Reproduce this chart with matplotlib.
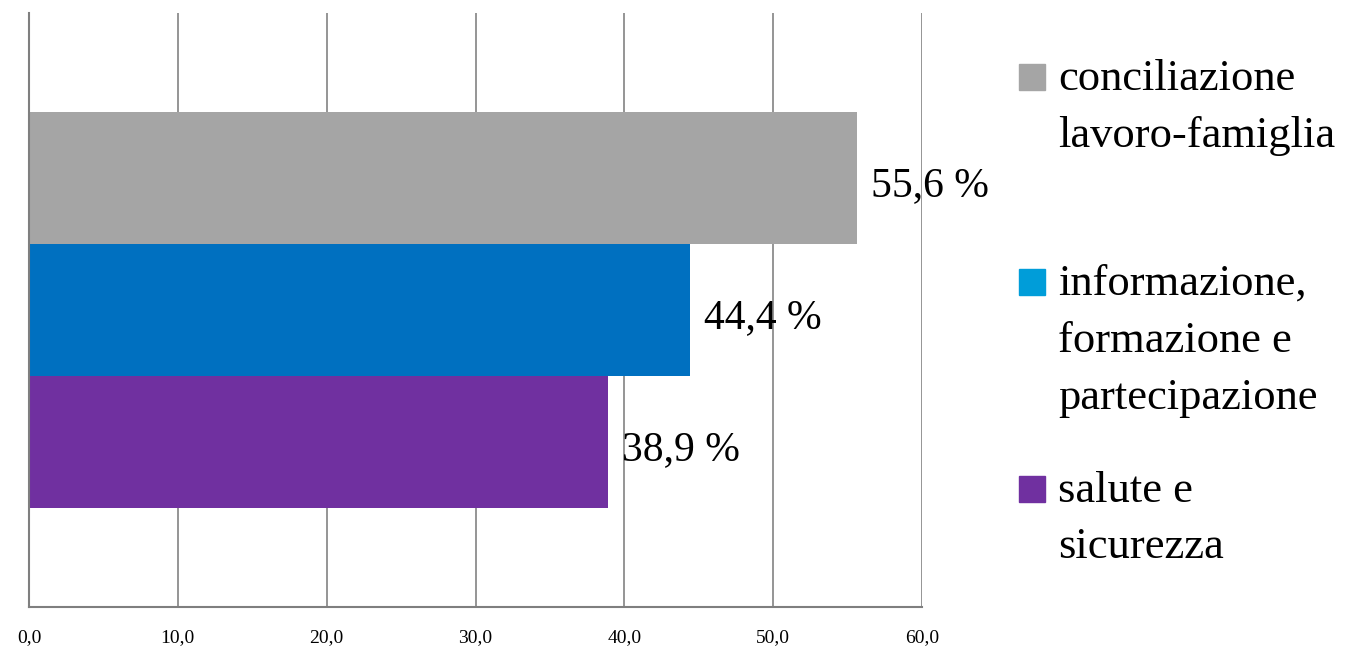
import matplotlib
matplotlib.use("Agg")
import matplotlib.pyplot as plt
from matplotlib.patches import Rectangle

# data, top bar first
categories = ["conciliazione\nlavoro-famiglia",
              "informazione,\nformazione e\npartecipazione",
              "salute e\nsicurezza"]
values = [55.6, 44.4, 38.9]
value_labels = ["55,6 %", "44,4 %", "38,9 %"]
bar_colors = ["#A5A5A5", "#0070C0", "#7030A0"]
legend_colors = ["#A5A5A5", "#009DD9", "#7030A0"]
xticks = [0, 10, 20, 30, 40, 50, 60]
xtick_labels = ["0,0", "10,0", "20,0", "30,0", "40,0", "50,0", "60,0"]

W, H = 1371, 652
plt.rcParams["font.family"] = ["Liberation Serif", "DejaVu Serif"]

fig = plt.figure(figsize=(W / 100, H / 100), dpi=100)
fig.patch.set_facecolor("white")

ax = fig.add_axes([29 / W, (H - 607) / H, (922 - 29) / W, (607 - 13) / H])
ax.set_facecolor("none")

ypos = [2, 1, 0]
ax.barh(ypos, values, height=1.0, color=bar_colors, zorder=2)
for y, v, lab in zip(ypos, values, value_labels):
    ax.text(v + 0.95, y - 0.06, lab, ha="left", va="center", fontsize=30, zorder=3)

ax.set_xlim(0, 60)
ax.set_ylim(-1.25, 3.25)
ax.set_xticks(xticks)
ax.set_xticklabels(xtick_labels, fontsize=14)
ax.set_yticks([])
ax.tick_params(axis="x", length=0, pad=16)
ax.grid(axis="x", color="#8c8c8c", linewidth=1.3, zorder=0)
for s in ["top", "right"]:
    ax.spines[s].set_visible(False)
for s in ["left", "bottom"]:
    ax.spines[s].set_color("#7f7f7f")
    ax.spines[s].set_linewidth(1.5)

# legend placed by hand, like the slide
baselines = [[90, 147], [295, 352, 409], [502, 558]]
for name, col, bl in zip(categories, legend_colors, baselines):
    y0 = bl[0]
    fig.patches.append(Rectangle((1019 / W, (H - y0) / H), 26 / W, 26 / H,
                                 transform=fig.transFigure, color=col, figure=fig))
    for line, b in zip(name.split("\n"), bl):
        fig.text(1058 / W, (H - b) / H, line, ha="left", va="baseline", fontsize=32)

fig.savefig("out.png", dpi=100)
